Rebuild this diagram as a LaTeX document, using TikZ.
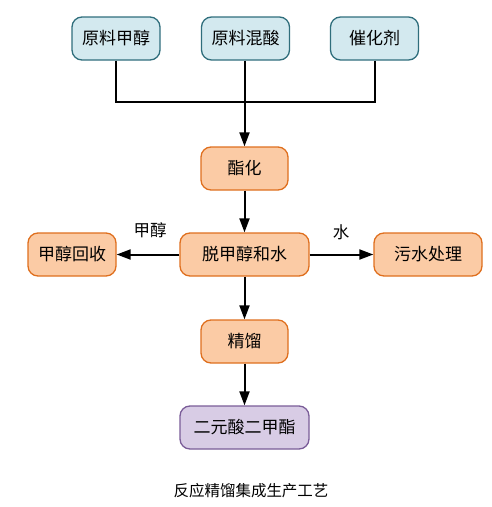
\documentclass[tikz,border=0pt]{standalone}
\usepackage{fontspec}
\setmainfont{Noto Sans CJK SC}
\usetikzlibrary{arrows.meta}
\definecolor{bluefill}{HTML}{D3E9EF}
\definecolor{blueline}{HTML}{2F6E7C}
\definecolor{orfill}{HTML}{FBCBA5}
\definecolor{orline}{HTML}{DF6F1E}
\definecolor{pufill}{HTML}{D8CCE5}
\definecolor{puline}{HTML}{7A5C98}
\tikzset{
  box/.style={draw, line width=1.3pt, rounded corners=10pt, minimum height=43pt, inner sep=0pt, font=\fontsize{17}{19}\selectfont},
  bluebox/.style={box, fill=bluefill, draw=blueline},
  orbox/.style={box, fill=orfill, draw=orline},
  pubox/.style={box, fill=pufill, draw=puline},
  conn/.style={line width=2pt, -{Triangle[length=14pt,width=10pt]}},
  plain/.style={line width=2pt},
  lbl/.style={font=\fontsize{16.5}{18}\selectfont}
}
\begin{document}
\begin{tikzpicture}[x=1pt,y=-1pt]
\useasboundingbox (0,0) rectangle (492,507);
\node[bluebox, minimum width=88pt] (m1) at (116,38.5) {原料甲醇};
\node[bluebox, minimum width=88pt] (m2) at (245.5,38.5) {原料混酸};
\node[bluebox, minimum width=88pt] (m3) at (374.5,38.5) {催化剂};
\node[orbox, minimum width=87pt] (e) at (244.5,168.5) {酯化};
\node[orbox, minimum width=129pt] (d) at (244.5,254.5) {脱甲醇和水};
\node[orbox, minimum width=88pt] (r) at (72,254.5) {甲醇回收};
\node[orbox, minimum width=108pt] (w) at (428,254.5) {污水处理};
\node[orbox, minimum width=87pt] (j) at (244.5,341.5) {精馏};
\node[pubox, minimum width=129pt] (p) at (244.5,427.5) {二元酸二甲酯};
\coordinate (jn) at (244.5,102);
\draw[plain] (m1.south) |- (jn);
\draw[plain] (m3.south) |- (jn);
\draw[conn] (m1.south -| m2.south) ++(-1,0) coordinate (t2) -- (t2 |- e.north);
\draw[conn] (e) -- (d);
\draw[conn] (d) -- (r);
\draw[conn] (d) -- (w);
\draw[conn] (d) -- (j);
\draw[conn] (j) -- (p);
\node[lbl] (l1) at (150,230) {甲醇};
\node[lbl] (l2) at (341,232) {水};
\node[font=\fontsize{15.5}{18}\selectfont] (cap) at (251,491) {反应精馏集成生产工艺};
\end{tikzpicture}
\end{document}
